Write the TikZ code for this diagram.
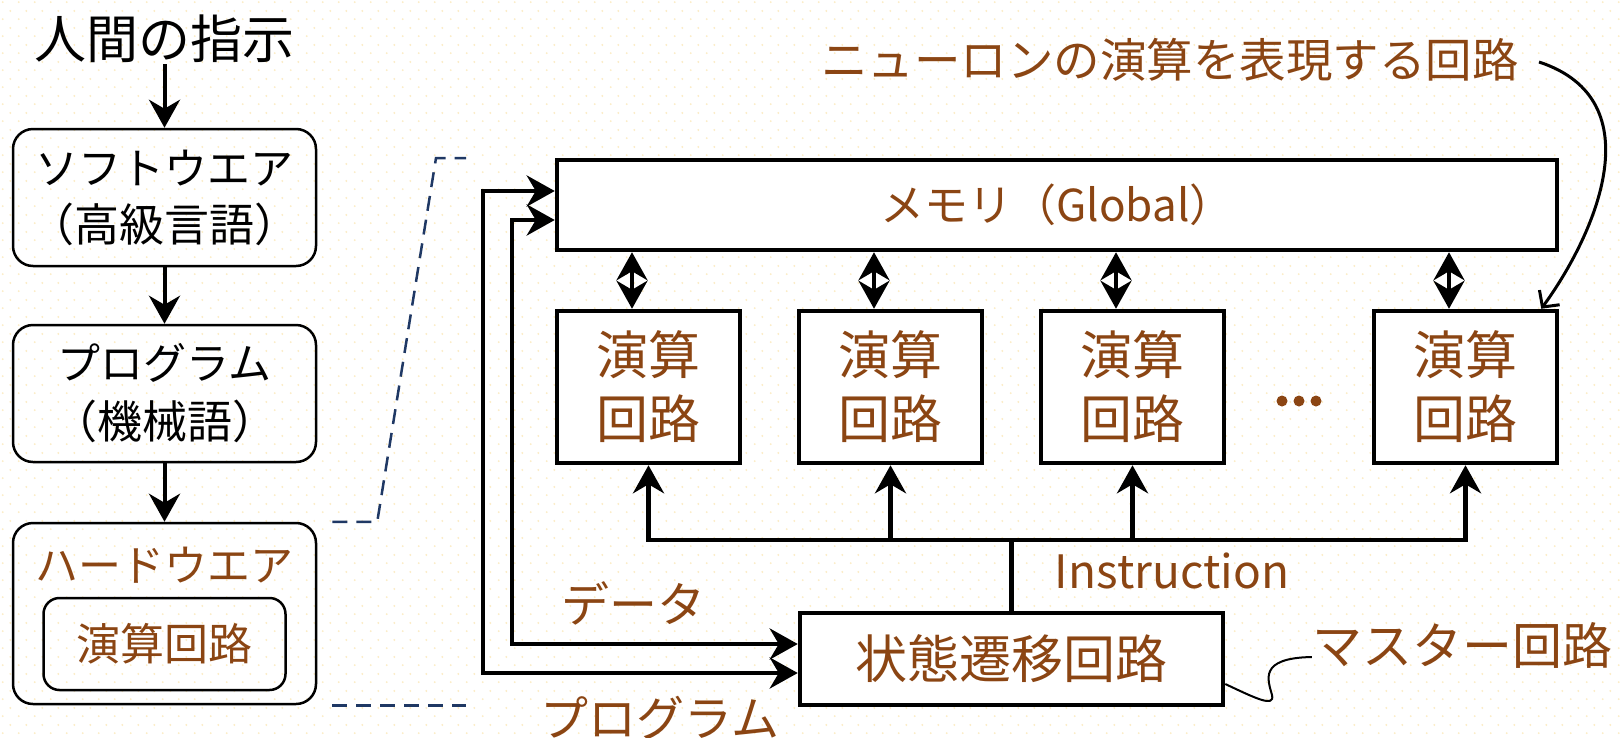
\documentclass[tikz,border=0pt]{standalone}
\usepackage{fontspec}
\newfontfamily\jp{Noto Sans CJK JP}
\usetikzlibrary{arrows.meta,patterns}
\definecolor{brn}{RGB}{139,69,19}
\definecolor{dotc}{RGB}{252,236,196}
\definecolor{navy}{RGB}{31,56,100}
\newcommand{\jpfs}[1]{\fontsize{#1}{#1}\selectfont}
\pgfdeclarepatternformonly{bgdots}{\pgfqpoint{0pt}{0pt}}{\pgfqpoint{16pt}{16.6pt}}{\pgfqpoint{16pt}{16.6pt}}{%
  \pgfpathcircle{\pgfqpoint{4pt}{4pt}}{1.1pt}%
  \pgfpathcircle{\pgfqpoint{12pt}{12.3pt}}{1.1pt}%
  \pgfusepath{fill}}
\begin{document}
\begin{tikzpicture}[x=1pt,y=-1pt,
  bigtip/.tip={Stealth[length=28pt,width=31pt,inset=9pt]},
  lbox/.style={draw,line width=2.5pt,rounded corners=20pt,align=center,inner sep=0pt},
  sbox/.style={draw,line width=4.5pt,fill=white,inner sep=0pt,align=center,text=brn},
  wire/.style={line width=4.5pt},
  flow/.style={line width=4pt,-bigtip},
  dflow/.style={line width=4pt,bigtip-bigtip},
  zoomline/.style={draw=navy,line width=2.5pt,dash pattern=on 15pt off 9pt},
  blab/.style={text=brn,inner sep=0pt}]
\useasboundingbox (0,0) rectangle (1620,737);
\fill[white] (0,0) rectangle (1620,737);
\fill[pattern=bgdots,pattern color=dotc] (0,0) rectangle (1620,737);
% left column
\node[font=\jp\jpfs{52},inner sep=1pt] (human) at (164.5,39) {人間の指示};
\node[lbox,minimum width=303pt,minimum height=137pt,font=\jp\fontsize{45}{57}\selectfont] (soft) at (164.5,197.5) {{\jpfs{43}ソフトウエア}\\（高級言語）};
\node[lbox,minimum width=303pt,minimum height=137pt,font=\jp\fontsize{45}{59}\selectfont] (prog) at (164.5,393.5) {{\jpfs{43}プログラム}\\（機械語）};
\node[lbox,minimum width=303pt,minimum height=181pt] (hard) at (164.5,613.5) {};
\node[blab,font=\jp\jpfs{43}] (hardt) at (164.5,565) {ハードウエア};
\node[lbox,minimum width=242pt,minimum height=92pt,rounded corners=16pt,text=brn,font=\jp\jpfs{44}] (inner) at (164.5,644) {演算回路};
\draw[flow] (human.south) -- (soft.north);
\draw[flow] (soft.south) -- (prog.north);
\draw[flow] (prog.south) -- (hard.north);
% zoom lines
\draw[zoomline] ([xshift=15pt]hard.north east) -- ++(45,0) -- (436,158) -- (466,158);
\draw[zoomline] ([xshift=15pt]hard.south east) -- ++(134,0);
% memory and calc boxes
\node[sbox,minimum width=1000pt,minimum height=90pt,font=\jp\jpfs{44}] (mem) at (1057,205) {メモリ（Global）};
\foreach \i/\x in {1/648.5,2/890.5,3/1132.5,4/1465.5}
  \node[sbox,minimum width=183pt,minimum height=152pt,font=\jp\fontsize{52}{64}\selectfont] (calc\i) at (\x,387) {演算\\回路};
\fill[brn] (1282,401) circle (5.5pt) (1299,401) circle (5.5pt) (1316,401) circle (5.5pt);
\foreach \i in {1,...,4}
  \draw[dflow] ([xshift=-16.5pt]calc\i.north |- mem.south) -- ([xshift=-16.5pt]calc\i.north);
% state machine
\node[sbox,minimum width=423pt,minimum height=92pt,font=\jp\jpfs{52}] (state) at (1011.5,659) {状態遷移回路};
\coordinate (bus) at (0,540);
\draw[wire,bigtip-bigtip] (calc1.south) -- (calc1.south |- bus) -- (calc4.south |- bus) -- (calc4.south);
\draw[wire,-bigtip] (calc2.south |- bus) -- (calc2.south);
\draw[wire,-bigtip] (calc3.south |- bus) -- (calc3.south);
\draw[wire] (state.north) -- (state.north |- bus);
\draw[wire,bigtip-bigtip] ([yshift=14pt]mem.west) -- ++(-72,0) |- ([yshift=-14pt]state.west);
\draw[wire,bigtip-bigtip] ([yshift=-15pt]mem.west) -- ++(-43,0) |- ([yshift=15pt]state.west);
% labels
\node[blab,font=\jp\jpfs{48}] (datalab) at (633,603) {データ};
\node[blab,font=\jp\jpfs{48}] (proglab) at (660,718) {プログラム};
\node[blab,font=\jp\jpfs{46}] (instlab) at (1172,571) {Instruction};
\node[blab,font=\jp\jpfs{50}] (master) at (1462,645) {マスター回路};
\node[blab,font=\jp\jpfs{46.5}] (neuron) at (1170,60) {ニューロンの演算を表現する回路};
\coordinate (cstart) at (1539,62);
\draw[line width=3pt,-{Straight Barb[length=12pt,width=25pt]}] (cstart) .. controls (1655,100) and (1595,235) .. ([xshift=-18pt]calc4.north east);
\draw[line width=2pt] ([yshift=-25pt]state.east) .. controls (1255,698) and (1275,708) .. (1272,695) .. controls (1268,680) and (1258,658) .. ([yshift=-12pt]master.west);
\end{tikzpicture}
\end{document}
